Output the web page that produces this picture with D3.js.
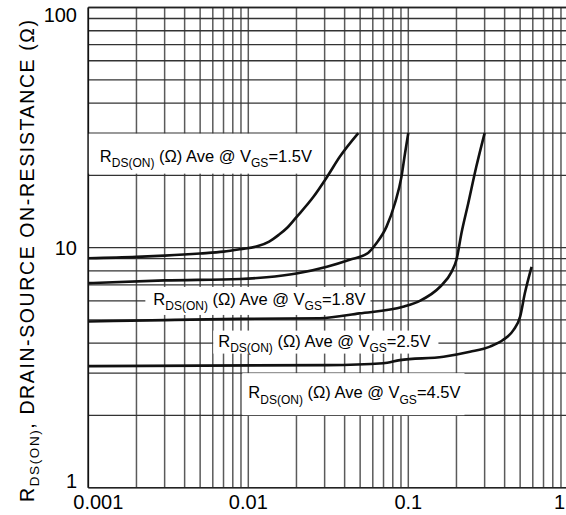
<!DOCTYPE html>
<html>
<head>
<meta charset="utf-8">
<script src="https://cdn.jsdelivr.net/npm/d3@7"></script>
<style>
  html, body { margin: 0; padding: 0; background: #fff; }
  svg { display: block; }
  text { font-family: "Liberation Sans", Arial, Helvetica, sans-serif; fill: #000; }
</style>
</head>
<body>
<svg id="chart" width="566" height="515"></svg>
<script>
// ---------- data ----------
const xTicks = [0.001, 0.01, 0.1, 1];
const xTickLabels = ["0.001", "0.01", "0.1", "1"];
const yTicks = [1, 10, 100];
const yTickLabels = ["1", "10", "100"];

const id15  = [0.001, 0.002, 0.003, 0.005, 0.007, 0.0089, 0.0115, 0.0135, 0.0155, 0.0175, 0.02, 0.0254, 0.0309, 0.0373, 0.0487];
const rds15 = [9.03,  9.15,  9.26,  9.45,  9.62,  9.85,   10.15,  10.6,   11.3,   12.1,   13.4, 16.2,   19.6,   23.9,   30];

const id18  = [0.001, 0.003, 0.0089, 0.013, 0.02, 0.031, 0.043, 0.056, 0.063, 0.073, 0.0825, 0.0906, 0.0953, 0.1];
const rds18 = [7.11,  7.3,   7.4,    7.52,  7.8,  8.32,  8.9,   9.5,   10.4,  12.2,  15.3,   19.7,   24.6,   30];

const id25  = [0.001, 0.003, 0.0089, 0.028, 0.0495, 0.0927, 0.118, 0.158, 0.186, 0.2,  0.215, 0.237, 0.266, 0.3];
const rds25 = [4.92,  4.99,  5.05,   5.08,  5.32,   5.67,   6.0,   6.87,  7.9,   8.9,  11.5,  15.3,  21.7,  30];

const id45  = [0.001, 0.0315, 0.0697, 0.0886, 0.166, 0.243, 0.324, 0.39, 0.455, 0.5,  0.535, 0.59];
const rds45 = [3.21,  3.24,   3.3,    3.4,    3.51,  3.68,  3.87,  4.12, 4.54,  5.16, 6.45,  8.32];

const seriesNames = ["1.5V", "1.8V", "2.5V", "4.5V"];

// ---------- layout ----------
const svg = d3.select("#chart");
const x = d3.scaleLog().domain([0.001, 1]).range([88.3, 568.3]);
const y = d3.scaleLog().domain([1, 100]).range([487.7, 7.5]);

// grid values
const xGrid = [], yGrid = [];
[0.001, 0.01, 0.1].forEach(d => { for (let k = 1; k < 10; k++) xGrid.push(d * k); });
xGrid.push(1);
[1, 10].forEach(d => { for (let k = 1; k < 10; k++) yGrid.push(d * k); });
yGrid.push(100);

const g = svg.append("g");
g.selectAll("line.vg").data(xGrid).join("line")
  .attr("x1", d => x(d)).attr("x2", d => x(d))
  .attr("y1", y(100)).attr("y2", y(1))
  .attr("stroke", "#5a5a5a").attr("stroke-width", 1.5);
g.selectAll("line.hg").data(yGrid).join("line")
  .attr("y1", d => y(d)).attr("y2", d => y(d))
  .attr("x1", x(0.001)).attr("x2", 566)
  .attr("stroke", "#333").attr("stroke-width", 1.3);

// frame
g.append("line").attr("x1", x(0.001)).attr("x2", x(0.001)).attr("y1", y(100)).attr("y2", y(1))
  .attr("stroke", "#111").attr("stroke-width", 1.6);
g.append("line").attr("x1", x(0.001)).attr("x2", 566).attr("y1", y(1)).attr("y2", y(1))
  .attr("stroke", "#222").attr("stroke-width", 1.6);
g.append("line").attr("x1", x(0.001)).attr("x2", 566).attr("y1", y(100)).attr("y2", y(100))
  .attr("stroke", "#222").attr("stroke-width", 1.4);

// ---------- labels with white boxes ----------
const labels = [
  { name: seriesNames[0], ax: 0.00118, ay: 22.8, pad: [11, 12, 28, 12] },
  { name: seriesNames[1], ax: 0.00255, ay: 5.77, pad: [8, 5, 18, 10] },
  { name: seriesNames[2], ax: 0.00649, ay: 3.87, pad: [5, 8, 16, 7] },
  { name: seriesNames[3], ax: 0.0100,  ay: 2.36, pad: [6, 4, 25, 17] }
];
labels.forEach(L => {
  const lg = svg.append("g");
  const rect = lg.append("rect").attr("fill", "#fff");
  const t = lg.append("text").attr("x", x(L.ax)).attr("y", y(L.ay)).style("font-size", "16.5px");
  t.append("tspan").text("R");
  t.append("tspan").attr("dy", 5.5).style("font-size", "12px").text("DS(ON)");
  t.append("tspan").attr("dy", -5.5).text(" (\u03A9) Ave @ V");
  t.append("tspan").attr("dy", 5.5).style("font-size", "12px").text("GS");
  t.append("tspan").attr("dy", -5.5).text("=" + L.name);
  const w = t.node().getComputedTextLength();
  const x0 = x(L.ax), y0 = y(L.ay);
  rect.attr("x", x0 - L.pad[0]).attr("width", w + L.pad[0] + L.pad[1])
      .attr("y", y0 - L.pad[2]).attr("height", L.pad[2] + L.pad[3]);
});

// ---------- curves ----------
const line = d3.line().x(d => x(d[0])).y(d => y(d[1])).curve(d3.curveMonotoneX);
const allSeries = [
  d3.zip(id15, rds15), d3.zip(id18, rds18), d3.zip(id25, rds25), d3.zip(id45, rds45)
];
svg.selectAll("path.curve").data(allSeries).join("path")
  .attr("class", "curve")
  .attr("d", line)
  .attr("fill", "none").attr("stroke", "#111").attr("stroke-width", 2.6)
  .attr("stroke-linejoin", "round");

// ---------- tick labels ----------
svg.selectAll("text.xt").data(xTicks).join("text")
  .attr("class", "xt")
  .attr("x", (d, i) => i === 0 ? x(d) + 10 : (i === 3 ? 565 : x(d)))
  .attr("y", 509)
  .attr("text-anchor", (d, i) => i === 3 ? "end" : "middle")
  .style("font-size", "20px")
  .text((d, i) => xTickLabels[i]);

const yOff = [0, 7, 14];
svg.selectAll("text.yt").data(yTicks).join("text")
  .attr("class", "yt")
  .attr("x", 77)
  .attr("y", (d, i) => y(d) + yOff[i])
  .attr("text-anchor", "end")
  .style("font-size", "20px")
  .text((d, i) => yTickLabels[i]);

// ---------- y axis title ----------
const yt = svg.append("text")
  .attr("transform", "translate(34,20) rotate(-90)")
  .attr("text-anchor", "end")
  .attr("textLength", 482)
  .attr("lengthAdjust", "spacing")
  .style("font-size", "19.5px");
yt.append("tspan").text("R");
yt.append("tspan").attr("dy", 5).style("font-size", "13.5px").text("DS(ON)");
yt.append("tspan").attr("dy", -5).text(", DRAIN-SOURCE ON-RESISTANCE (\u03A9)");
</script>
</body>
</html>
